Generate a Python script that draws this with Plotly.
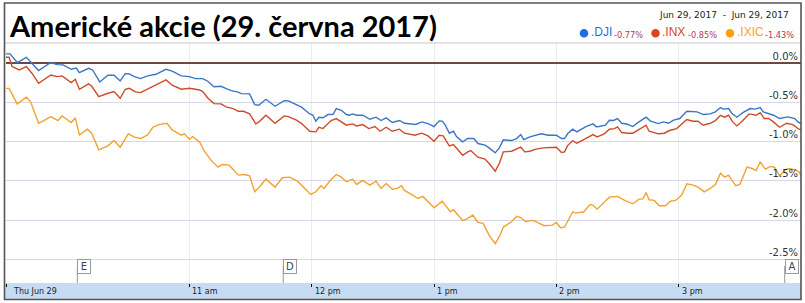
import pandas as pd
import plotly.graph_objects as go

# ---------------- data (minutes after 9:30, % change) ----------------
dji_min = [0, 2, 5.5, 10, 16, 22, 25, 28, 32, 34.5, 36, 40.5, 42.5, 46, 50, 53, 56, 58.5, 60.5, 63, 66, 69.5, 73.5, 78.5, 81.5, 86, 90, 93, 96.5, 99, 102, 105.5, 108, 110.5, 113.5, 115.5, 119.5, 122, 124, 127.5, 132, 136.5, 138.5, 142.5, 145, 149, 150.5, 152, 153.5, 155.5, 158, 160.5, 162, 164.5, 167, 168.5, 170, 172, 175, 178.5, 181.5, 184, 186.5, 189.5, 193, 195.5, 198, 201, 204, 207, 210, 212.5, 214, 215.5, 217.5, 219.5, 221, 224, 226.5, 229.5, 231.5, 235, 237, 240, 242, 244, 248, 250.5, 252.5, 254, 257, 260, 262.5, 266, 270, 272.5, 274, 275.5, 278, 280, 282.5, 284.5, 288, 289.5, 291, 294, 296, 298, 300, 302, 304.5, 307.5, 310.5, 314, 316, 320, 322.5, 325, 327.5, 330.5, 334, 336.5, 339, 342, 345.5, 348, 350.5, 352, 354.5, 356, 358.5, 361.5, 365, 367.5, 370, 371.5, 374, 376.5, 379.5, 383.5, 387, 388.5, 390]
dji_val = [0.12, 0.12, 0.01, 0.076, -0.093, 0.01, -0.017, -0.02, -0.076, -0.06, -0.12, -0.064, -0.085, -0.238, -0.153, -0.153, -0.225, -0.132, -0.136, -0.17, -0.195, -0.161, -0.14, -0.076, -0.10, -0.161, -0.17, -0.195, -0.195, -0.229, -0.30, -0.293, -0.323, -0.348, -0.365, -0.387, -0.39, -0.527, -0.535, -0.459, -0.548, -0.476, -0.48, -0.535, -0.56, -0.646, -0.66, -0.739, -0.688, -0.695, -0.654, -0.65, -0.578, -0.60, -0.654, -0.663, -0.646, -0.663, -0.663, -0.714, -0.688, -0.73, -0.697, -0.756, -0.73, -0.765, -0.772, -0.78, -0.748, -0.77, -0.807, -0.735, -0.738, -0.79, -0.892, -0.867, -0.935, -1.003, -0.96, -0.96, -1.024, -1.045, -1.079, -1.143, -1.079, -0.977, -0.986, -0.96, -0.909, -0.973, -0.939, -0.92, -0.90, -0.918, -0.918, -0.96, -0.96, -0.90, -0.841, -0.875, -0.84, -0.807, -0.773, -0.81, -0.807, -0.79, -0.726, -0.73, -0.705, -0.765, -0.775, -0.807, -0.748, -0.688, -0.735, -0.769, -0.748, -0.765, -0.726, -0.705, -0.612, -0.62, -0.62, -0.654, -0.646, -0.62, -0.565, -0.585, -0.578, -0.637, -0.688, -0.629, -0.578, -0.585, -0.565, -0.62, -0.64, -0.663, -0.705, -0.684, -0.705, -0.748, -0.77]

inx_min = [0, 1.5, 3, 6.5, 10, 13, 16, 22, 25, 27.5, 32, 34, 36, 40.5, 42, 45.5, 50, 53, 56, 58.5, 60.5, 63.5, 66, 69.5, 73.5, 78.5, 81.5, 86, 90, 93, 95, 96.5, 99, 102, 105.5, 108, 111.5, 114, 116.5, 119.5, 122.5, 124, 127.5, 132, 136.5, 138.5, 142.5, 145, 149, 152, 153.5, 155.5, 158, 159.5, 162, 164.5, 167, 170, 172, 175, 178, 181, 183.5, 186.5, 189.5, 193, 195.5, 200.5, 204, 207, 210, 212.5, 214.5, 216, 217.5, 219.5, 224, 226.5, 228, 231.5, 235, 237, 240, 242, 244, 248, 250.5, 252.5, 254.5, 257, 260, 263.5, 270, 272.5, 274, 275.5, 278, 280, 282.5, 284.5, 288, 290, 291, 293.5, 296, 298.5, 300, 302, 305, 307.5, 310, 314, 315.5, 320, 323, 325.5, 329, 334, 337, 339.5, 342, 345.5, 348, 350.5, 352.5, 354.5, 356.5, 358.5, 361.5, 364.5, 368, 370, 372, 374, 376.5, 379.5, 383, 386, 389, 390]
inx_val = [0.077, 0.077, -0.042, -0.085, -0.042, -0.136, -0.255, -0.149, -0.17, -0.161, -0.246, -0.204, -0.331, -0.263, -0.29, -0.425, -0.382, -0.361, -0.446, -0.331, -0.319, -0.365, -0.374, -0.331, -0.272, -0.212, -0.28, -0.331, -0.319, -0.33, -0.34, -0.36, -0.442, -0.514, -0.518, -0.556, -0.578, -0.612, -0.612, -0.646, -0.773, -0.75, -0.663, -0.765, -0.671, -0.68, -0.726, -0.769, -0.867, -0.875, -0.816, -0.833, -0.765, -0.73, -0.705, -0.748, -0.79, -0.773, -0.799, -0.782, -0.833, -0.807, -0.867, -0.816, -0.867, -0.841, -0.892, -0.918, -0.892, -0.926, -0.994, -0.918, -0.926, -0.994, -1.054, -1.037, -1.173, -1.13, -1.113, -1.198, -1.223, -1.279, -1.376, -1.279, -1.13, -1.122, -1.096, -1.071, -1.13, -1.122, -1.096, -1.079, -1.071, -1.138, -1.13, -1.05, -0.986, -1.02, -0.986, -0.96, -0.909, -0.939, -0.926, -0.90, -0.841, -0.833, -0.811, -0.884, -0.892, -0.892, -0.854, -0.79, -0.867, -0.90, -0.892, -0.858, -0.833, -0.718, -0.739, -0.739, -0.79, -0.765, -0.731, -0.663, -0.688, -0.663, -0.748, -0.799, -0.731, -0.646, -0.663, -0.629, -0.705, -0.705, -0.748, -0.816, -0.765, -0.782, -0.841, -0.85]

ixic_min = [0, 1.5, 5.5, 10, 12, 16, 18.5, 22, 25.5, 27.5, 32, 34, 36, 40, 42, 45.5, 50, 53, 56, 60, 63, 66, 69.5, 72, 75, 79, 81.5, 86, 87.5, 90, 91.5, 95, 97, 100.5, 104, 106, 109.5, 114, 117, 119.5, 122, 124, 127.5, 132, 135.5, 139, 143, 146, 149.5, 152, 154.5, 156, 159, 162, 164.5, 167, 170, 172, 175, 178.5, 181.5, 184, 186.5, 189.5, 192, 194, 195.5, 199.5, 202, 204.5, 210, 214, 218, 219.5, 224, 226, 229, 231.5, 234, 237, 240, 242, 244, 248, 250.5, 252.5, 255, 258, 260, 264, 268, 270, 272, 274, 278, 279.5, 283.5, 286.5, 288, 290, 293.5, 296, 300, 303.5, 307.5, 310.5, 312.5, 314, 315.5, 318, 320.5, 323.5, 326, 328.5, 331.5, 334, 337, 339.5, 342.5, 345.5, 348, 350.5, 352.5, 354.5, 356, 358, 360, 363.5, 366, 368, 370, 372.5, 375, 377, 379.5, 382, 383.5, 387, 389, 390]
ixic_val = [-0.32, -0.32, -0.518, -0.433, -0.489, -0.765, -0.731, -0.68, -0.731, -0.671, -0.756, -0.697, -0.913, -0.841, -0.892, -1.105, -1.054, -0.986, -1.071, -0.90, -0.943, -0.96, -0.913, -0.816, -0.782, -0.765, -0.85, -0.918, -0.90, -0.969, -0.935, -1.003, -1.109, -1.236, -1.325, -1.291, -1.30, -1.427, -1.419, -1.436, -1.64, -1.589, -1.478, -1.58, -1.461, -1.453, -1.504, -1.589, -1.674, -1.64, -1.563, -1.597, -1.495, -1.419, -1.453, -1.512, -1.478, -1.546, -1.495, -1.555, -1.504, -1.597, -1.534, -1.606, -1.597, -1.563, -1.623, -1.682, -1.725, -1.699, -1.844, -1.759, -1.895, -1.869, -2.005, -1.988, -1.937, -2.031, -2.043, -2.192, -2.302, -2.213, -2.09, -2.022, -1.954, -1.97, -2.022, -2.005, -2.02, -2.073, -2.065, -2.031, -2.099, -2.09, -1.895, -1.912, -1.895, -1.801, -1.81, -1.861, -1.767, -1.708, -1.699, -1.75, -1.793, -1.733, -1.73, -1.648, -1.742, -1.75, -1.818, -1.818, -1.759, -1.75, -1.682, -1.538, -1.555, -1.58, -1.64, -1.597, -1.546, -1.402, -1.453, -1.427, -1.487, -1.563, -1.546, -1.325, -1.342, -1.368, -1.257, -1.351, -1.317, -1.325, -1.436, -1.368, -1.342, -1.359, -1.385, -1.427]

series_names = [".DJI", ".INX", ".IXIC"]
series_changes = ["-0.77%", "-0.85%", "-1.43%"]
series_colors = ["#3a76c6", "#cf4a2b", "#f2a230"]
legend_colors = ["#1f6fe0", "#d9461e", "#ff9f10"]

y_tickvals = [0, -0.5, -1.0, -1.5, -2.0, -2.5]
y_ticktext = ["0.0%", "-0.5%", "-1.0%", "-1.5%", "-2.0%", "-2.5%"]
x_tick_times = ["09:30", "11:00", "12:00", "13:00", "14:00", "15:00"]
x_tick_labels = ["Thu Jun 29", "11 am", "12 pm", "1 pm", "2 pm", "3 pm"]
flag_letters = ["E", "D", "A"]
flag_times = ["10:05", "11:46", "15:52"]

title_text = "Americké akcie (29. června 2017)"
date_range_text = "Jun 29, 2017\u00a0\u00a0-\u00a0\u00a0Jun 29, 2017"

# ---------------- figure ----------------
DAY = "2017-06-29 "
base = pd.Timestamp(DAY + "09:30")
def to_time(mins):
    return base + pd.to_timedelta(pd.Series(mins), unit="min")

W, H = 805, 303
ML, MR, MT, MB = 6, 4, 43, 20
PW, PH = W - ML - MR, H - MT - MB
def px(x):  # pixel -> paper x
    return (x - ML) / PW
def py(y):  # pixel -> paper y
    return (H - MB - y) / PH

fig = go.Figure()
for mins, vals, name, col in [(dji_min, dji_val, series_names[0], series_colors[0]),
                              (inx_min, inx_val, series_names[1], series_colors[1]),
                              (ixic_min, ixic_val, series_names[2], series_colors[2])]:
    fig.add_trace(go.Scatter(x=to_time(mins), y=vals, mode="lines", name=name,
                             line=dict(color=col, width=1.4), showlegend=False))

y_top = (63.3 - MT) / 78.36
y_bot = -2.5 - (H - MB - 259.2) / 78.36

fig.update_layout(
    width=W, height=H, margin=dict(l=ML, r=MR, t=MT, b=MB),
    paper_bgcolor="white", plot_bgcolor="white",
    xaxis=dict(type="date", range=[DAY + "09:30", DAY + "16:00"],
               tickvals=[DAY + t for t in x_tick_times], showticklabels=False,
               ticks="outside", ticklen=3, tickwidth=1, tickcolor="#000",
               showgrid=True, gridcolor="#ececec", gridwidth=1, zeroline=False,
               showline=False),
    yaxis=dict(range=[y_bot, y_top], side="right", tickvals=y_tickvals, ticktext=y_ticktext,
               ticklabelposition="inside top", ticks="",
               tickfont=dict(family="DejaVu Sans", size=10, color="#333"),
               showgrid=True, gridcolor="#d7d7e5", gridwidth=1,
               zeroline=True, zerolinecolor="#6b4b40", zerolinewidth=1.5, showline=False),
    font=dict(family="DejaVu Sans"),
)

shapes = []
# blue axis band
shapes.append(dict(type="rect", xref="paper", yref="paper", x0=px(4), x1=px(801), y0=py(299), y1=py(283),
                   fillcolor="#c6dcf2", line=dict(width=0), layer="below"))
# title separator
shapes.append(dict(type="line", xref="paper", yref="paper", x0=px(4), x1=px(801), y0=py(43), y1=py(43),
                   line=dict(color="#c9c9c9", width=1)))
# outer frame
shapes.append(dict(type="rect", xref="paper", yref="paper", x0=px(4.5), x1=px(801), y0=py(299.5), y1=py(3),
                   line=dict(color="#555", width=1.6), fillcolor="rgba(0,0,0,0)"))

annotations = []
annotations.append(dict(text="<b>" + title_text + "</b>", xref="paper", yref="paper", x=px(7), y=py(25),
                        xanchor="left", yanchor="middle", showarrow=False,
                        font=dict(family="Lato", size=29, color="#000")))
annotations.append(dict(text=date_range_text, xref="paper", yref="paper", x=px(791), y=py(15),
                        xanchor="right", yanchor="middle", showarrow=False,
                        font=dict(family="DejaVu Sans", size=9, color="#222")))

# legend row (dot, name, change) placed at the reference's pixel positions
dot_cx = [584, 655.5, 730]
name_x = [589, 660, 735]
pct_x = [611.5, 686, 763]
for i in range(3):
    shapes.append(dict(type="circle", xref="paper", yref="paper",
                       x0=px(dot_cx[i] - 4.3), x1=px(dot_cx[i] + 4.3),
                       y0=py(33.3 + 4.3), y1=py(33.3 - 4.3),
                       fillcolor=legend_colors[i], line=dict(width=0)))
    annotations.append(dict(text=series_names[i], xref="paper", yref="paper", x=px(name_x[i]), y=py(31.5),
                            xanchor="left", yanchor="middle", showarrow=False,
                            font=dict(family="Liberation Sans", size=12, color=legend_colors[i])))
    annotations.append(dict(text=series_changes[i], xref="paper", yref="paper", x=px(pct_x[i]), y=py(34.5),
                            xanchor="left", yanchor="middle", showarrow=False,
                            font=dict(family="DejaVu Sans", size=8.2, color="#b8365a")))

for t, lab in zip(x_tick_times, x_tick_labels):
    annotations.append(dict(text=lab, xref="x", yref="paper", x=DAY + t, y=py(291),
                            xanchor="left", yanchor="middle", xshift=(5 if lab.startswith("Thu") else 1),
                            showarrow=False, font=dict(family="DejaVu Sans", size=8, color="#222")))
for L, t in zip(flag_letters, flag_times):
    shapes.append(dict(type="line", xref="x", yref="paper", x0=DAY + t, x1=DAY + t,
                       y0=py(283), y1=py(266), line=dict(color="#999", width=1)))
    annotations.append(dict(text=L, xref="x", yref="paper", x=DAY + t, y=py(266.5),
                            xanchor="left", yanchor="middle", showarrow=False,
                            width=10, height=11, bgcolor="white", bordercolor="#999",
                            borderwidth=1, borderpad=1,
                            font=dict(family="DejaVu Sans", size=10, color="#444")))

fig.update_layout(shapes=shapes, annotations=annotations)
fig.write_html("out.html")
